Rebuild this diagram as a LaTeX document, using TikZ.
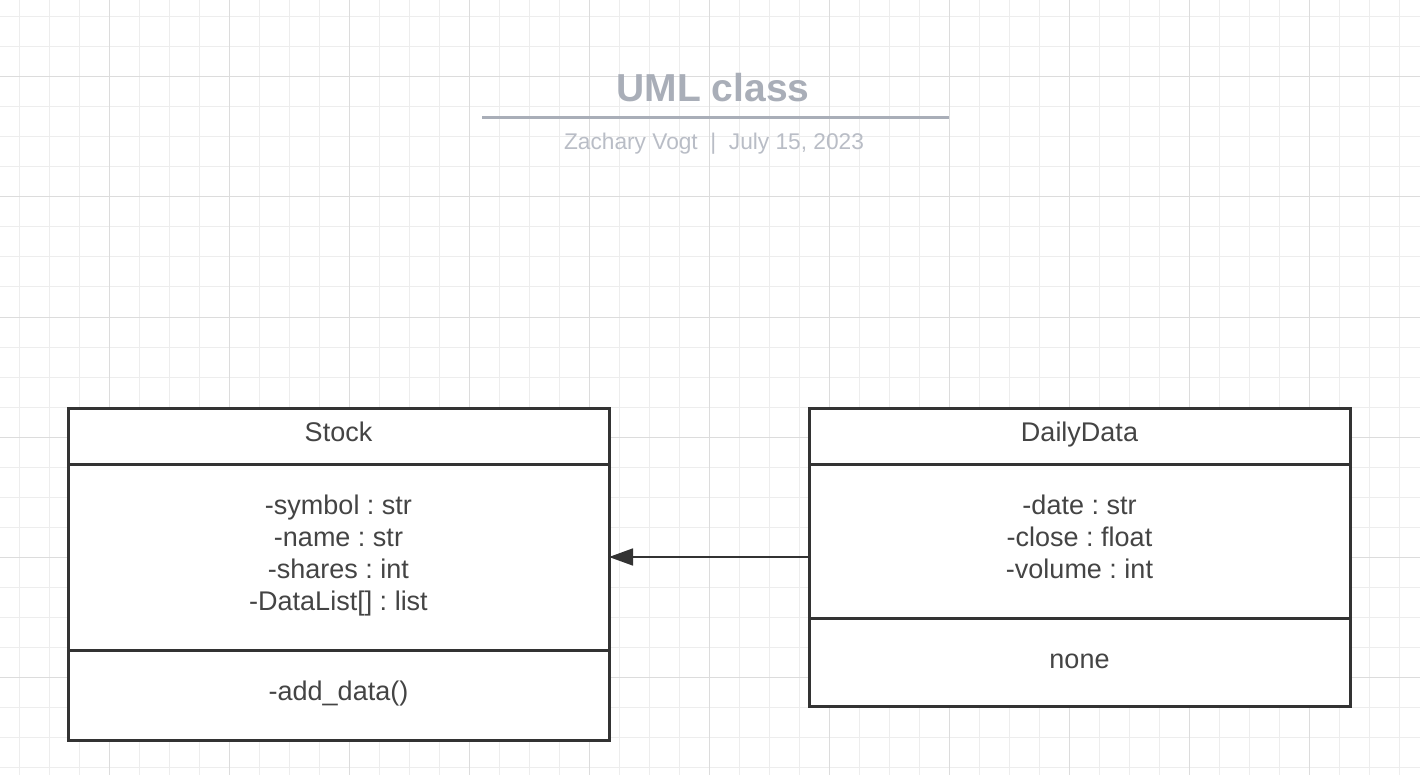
\documentclass[tikz,border=0pt]{standalone}
\usepackage{fontspec}
\setmainfont{Liberation Sans}
\frenchspacing
\usetikzlibrary{arrows.meta}
\definecolor{gridminor}{HTML}{EDEDED}
\definecolor{gridmajor}{HTML}{DCDCDC}
\definecolor{titlegray}{HTML}{A9AEB8}
\definecolor{subgray}{HTML}{B9BDC6}
\definecolor{boxline}{HTML}{333333}
\definecolor{boxtext}{HTML}{444444}
\tikzset{
  compart/.style={draw=boxline, fill=white, line width=3pt, rectangle, inner sep=0pt,
    outer sep=0pt, minimum width=541pt, anchor=north west},
  cls/.style={anchor=base, inner sep=0pt, text=boxtext, font=\fontsize{27}{32}\selectfont},
  gminor/.style={draw=gridminor, line width=1pt},
  gmajor/.style={draw=gridmajor, line width=1pt},
  assoc/.style={draw=boxline, line width=1.6pt, -{Triangle[length=24pt,width=17pt]}},
}
\begin{document}
\begin{tikzpicture}[x=1pt,y=-1pt]
\useasboundingbox (0,0) rectangle (1420,775);
\fill[white] (0,0) rectangle (1420,775);
% grid
\foreach \x in {19.5,49.5,...,1420} \draw[gminor] (\x,0) -- (\x,775);
\foreach \y in {17,47,...,775} \draw[gminor] (0,\y) -- (1420,\y);
\foreach \x in {109.5,229.5,...,1420} \draw[gmajor] (\x,0) -- (\x,775);
\foreach \y in {77,197,...,775} \draw[gmajor] (0,\y) -- (1420,\y);
% title
\node[anchor=base, inner sep=0pt, text=titlegray, font=\fontsize{39}{44}\selectfont\bfseries] (title) at (713,102) {UML class};
\coordinate (rl) at (482,118);
\coordinate (rr) at (949,118);
\draw[titlegray, line width=3pt] (rl) -- (rr);
\node[anchor=base, inner sep=0pt, text=subgray, font=\fontsize{22.7}{26}\selectfont] (sub) at (714,149.5) {Zachary Vogt\ \ |\ \ July 15, 2023};
% Stock class
\node[compart, minimum height=56pt] (stockhead) at (68,408) {};
\node[compart, minimum height=186pt] (stockattr) at (68,464) {};
\node[compart, minimum height=90pt] (stockops) at (68,650) {};
\node[cls] (stockname) at (338.5,441.7) {Stock};
\node[cls] (sa1) at (338.5,514.3) {-symbol : str};
\node[cls] (sa2) at (338.5,546.3) {-name : str};
\node[cls] (sa3) at (338.5,578.3) {-shares : int};
\node[cls] (sa4) at (338.5,610.3) {-DataList[] : list};
\node[cls] (so1) at (338.5,700) {-add\_data()};
% DailyData class
\node[compart, minimum height=298pt] (dd) at (809,408) {};
\node[compart, minimum height=56pt] (ddhead) at (809,408) {};
\node[compart, minimum height=154pt] (ddattr) at (809,464) {};
\node[compart, minimum height=88pt] (ddops) at (809,618) {};
\node[cls] (ddname) at (1079.5,441.7) {DailyData};
\node[cls] (da1) at (1079.5,514.3) {-date : str};
\node[cls] (da2) at (1079.5,546.3) {-close : float};
\node[cls] (da3) at (1079.5,578.3) {-volume : int};
\node[cls] (do1) at (1079.5,668.3) {none};
% association
\draw[assoc] (dd.west) -- (stockattr.east);
\end{tikzpicture}
\end{document}
